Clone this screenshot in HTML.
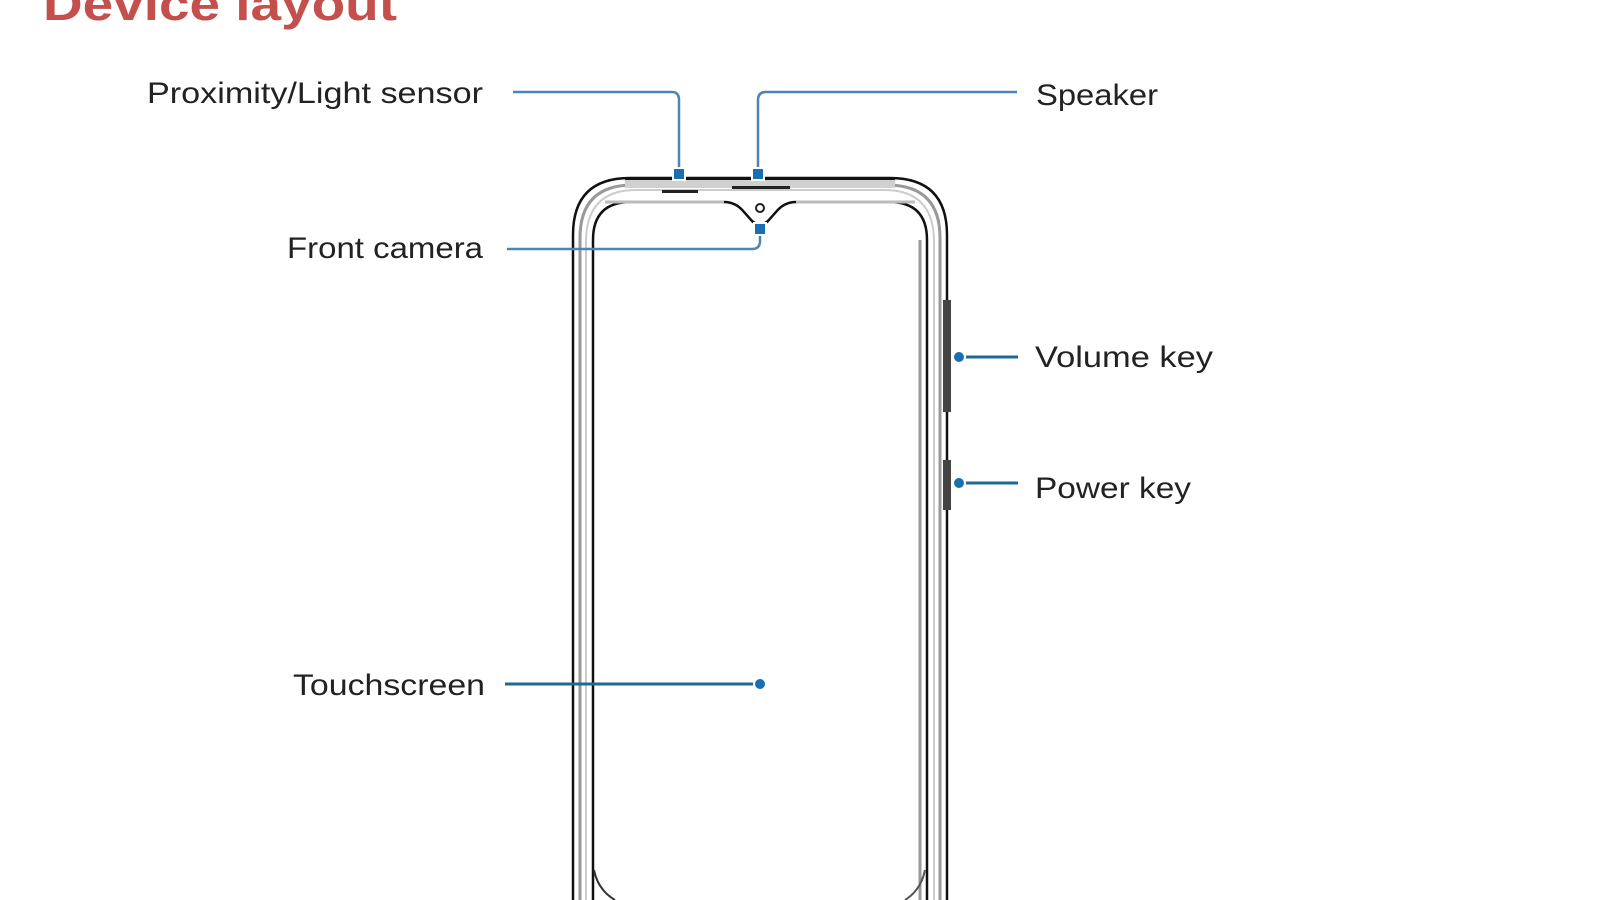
<!DOCTYPE html>
<html><head><meta charset="utf-8"><style>
html,body{margin:0;padding:0;background:#fff;width:1600px;height:900px;overflow:hidden}
svg{display:block}
text{font-family:"Liberation Sans",sans-serif;fill:#222}
</style></head><body>
<svg width="1600" height="900" viewBox="0 0 1600 900" xmlns="http://www.w3.org/2000/svg">
<text x="43" y="20" font-size="46" font-weight="bold" style="fill:#c4504e" textLength="354" lengthAdjust="spacingAndGlyphs">Device layout</text>

<g fill="none">
<path d="M573 905 V235 Q573 178 630 178 H890 Q947 178 947 235 V905" stroke="#111" stroke-width="2.5"/>
<path d="M580 905 V238 Q580 185 633 185 H887 Q940 185 940 238 V905" stroke="#999" stroke-width="3"/>
<path d="M586 905 V242 Q586 190 636 190 H884 Q934 190 934 242 V905" stroke="#ccc" stroke-width="2"/>
<path d="M593 910 V240 Q593 202 631 202 H724 Q736 202 744 212 L752 221 Q760 228 768 221 L776 212 Q784 202 796 202 H889 Q927 202 927 240 V910" stroke="#111" stroke-width="2.5"/>
<path d="M920 240 V905" stroke="#999" stroke-width="3"/>
<path d="M605 202 H724 M796 202 H915" stroke="#bbb" stroke-width="3"/>
</g>
<path d="M594 870 Q598 890 615 900" fill="none" stroke="#333" stroke-width="2"/>
<path d="M925 870 Q921 890 905 900" fill="none" stroke="#555" stroke-width="2"/>
<rect x="625" y="179" width="270" height="9" fill="#d0d0d0"/>
<line x1="625" y1="179" x2="895" y2="179" stroke="#111" stroke-width="2"/>
<rect x="662" y="190" width="36" height="3" fill="#222"/>
<rect x="732" y="186" width="58" height="3" fill="#222"/>
<circle cx="760" cy="208" r="4" fill="#fff" stroke="#222" stroke-width="2"/>
<rect x="943" y="300" width="8" height="112" fill="#444"/>
<rect x="943" y="460" width="8" height="50" fill="#444"/>

<g fill="none" stroke="#4a86b8" stroke-width="2.5">
<path d="M513 92 H672 Q679 92 679 100 V174"/>
<path d="M1017 92 H766 Q758 92 758 100 V174"/>
<path d="M507 249 H752 Q760 249 760 241 V229"/>
</g>
<g fill="none" stroke="#1f6a94" stroke-width="3">
<line x1="505" y1="684" x2="760" y2="684"/>
<line x1="959" y1="357" x2="1018" y2="357"/>
<line x1="959" y1="483" x2="1018" y2="483"/>
</g>
<g fill="#1a6fb0" stroke="#fff" stroke-width="2">
<rect x="673" y="168" width="12" height="12"/>
<rect x="752" y="168" width="12" height="12"/>
<rect x="754" y="223" width="12" height="12"/>
<circle cx="760" cy="684" r="6"/>
<circle cx="959" cy="357" r="6"/>
<circle cx="959" cy="483" r="6"/>
</g>

<text x="147" y="103" font-size="30" textLength="336" lengthAdjust="spacingAndGlyphs">Proximity/Light sensor</text>
<text x="1036" y="105" font-size="30" textLength="122" lengthAdjust="spacingAndGlyphs">Speaker</text>
<text x="287" y="258" font-size="30" textLength="196" lengthAdjust="spacingAndGlyphs">Front camera</text>
<text x="1035" y="367" font-size="30" textLength="178" lengthAdjust="spacingAndGlyphs">Volume key</text>
<text x="1035" y="498" font-size="30" textLength="156" lengthAdjust="spacingAndGlyphs">Power key</text>
<text x="293" y="695" font-size="30" textLength="192" lengthAdjust="spacingAndGlyphs">Touchscreen</text>
</svg>
</body></html>
